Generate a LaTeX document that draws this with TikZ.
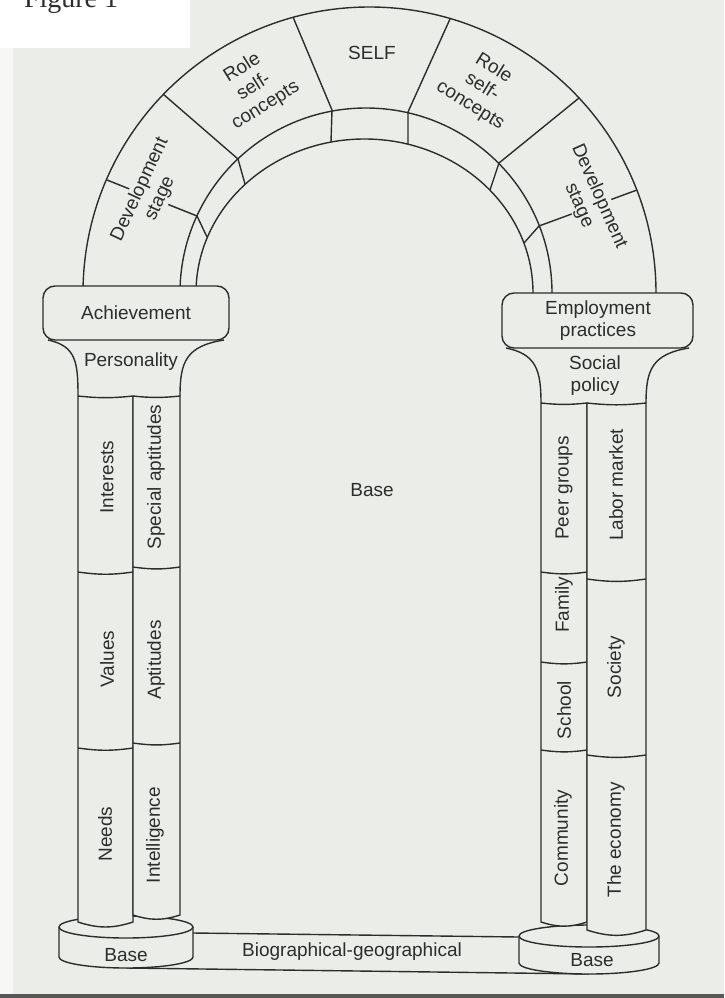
\documentclass[tikz,border=0pt]{standalone}
\usepackage{fontspec}
\setmainfont{Liberation Sans}
\newfontfamily\figfont{Liberation Serif}
\definecolor{paper}{RGB}{235,238,232}
\definecolor{ink}{RGB}{45,45,45}

\begin{document}
\begin{tikzpicture}[x=1pt,y=1pt,line width=1.4pt,color=ink,
  lbl/.style={font=\fontsize{19}{22}\selectfont,inner sep=1pt,align=center},
  up/.style={lbl,rotate=90}]
  \useasboundingbox (0,0) rectangle (724,-998);
  \clip (0,0) rectangle (724,-998);
  % Page
  \fill[paper] (0,0) rectangle (724,-998);
  \fill[paper!40!white] (0,-27) rectangle (13,-998);
  \fill[white] (0,0) rectangle (190,-48);
  \fill[ink!80] (0,-994) rectangle (724,-998);
  \node[font=\figfont\fontsize{28}{30}\selectfont,anchor=base west] (fig) at (20,-8) {Figure 1};

  % Arch
  \draw (83,-293) arc[start angle=180,end angle=0,x radius=286.5,y radius=286];
  \draw (180,-293) arc[start angle=180,end angle=0,x radius=186,y radius=185];
  \draw (196,-293) arc[start angle=180,end angle=0,x radius=168.5,y radius=154];
  \draw (293,-17) -- (332,-110) -- (331,-142);
  \draw (450,-19) -- (408,-112) -- (408,-144);
  \draw (163,-94) -- (238,-159) -- (245,-184);
  \draw (579,-98) -- (499,-163) -- (490,-190);
  \draw (107,-180) -- (197,-216) -- (207,-237);
  \draw (637,-190) -- (539,-226) -- (524,-243);

  \node[lbl] (self) at (372,-53) {SELF};
  \node[lbl,rotate=32] (rolel) at (254,-87) {Role\\self-\\concepts};
  \node[lbl,rotate=-32] (roler) at (482,-87) {Role\\self-\\concepts};
  \node[lbl,rotate=65,fill=paper] (devl) at (150,-194) {Development\\stage};
  \node[lbl,rotate=-66,fill=paper] (devr) at (589,-201) {Development\\stage};
  \node[lbl] (base) at (372,-490) {Base};

  % Biographical-geographical base
  \draw (193,-933) -- (519,-937);
  \draw (126,-968) -- (589,-974);
  \node[lbl] (bio) at (352,-952) {Biographical-geographical};
  \draw[fill=paper] (59,-927) -- (59,-957) arc[start angle=180,end angle=360,x radius=67,y radius=11]
    -- (193,-927) arc[start angle=0,end angle=180,x radius=67,y radius=11] -- cycle;
  \draw (59,-927) arc[start angle=180,end angle=360,x radius=67,y radius=11];
  \node[lbl] (basel) at (126,-955) {Base};
  \draw[fill=paper] (519,-936) -- (519,-963) arc[start angle=180,end angle=360,x radius=70,y radius=11]
    -- (659,-936) arc[start angle=0,end angle=180,x radius=70,y radius=11] -- cycle;
  \draw (519,-936) arc[start angle=180,end angle=360,x radius=70,y radius=11];
  \node[lbl] (baser) at (592,-960) {Base};

  % Left pillar
  \draw[fill=paper,rounded corners=12] (43,-286) rectangle (229,-340);
  \draw (48,-340) .. controls (76,-346) and (78,-362) .. (78,-396);
  \draw (224,-340) .. controls (186,-346) and (180,-362) .. (180,-396);
  \draw[fill=paper] (78,-396) -- (78,-922) to[bend right=18] (133,-922) -- (133,-396) to[bend left=6] (78,-396);
  \draw[fill=paper] (133,-396) -- (133,-915) to[bend right=18] (180,-915) -- (180,-396) to[bend left=6] (133,-396);
  \draw (78,-572) to[bend right=8] (133,-572);
  \draw (78,-748) to[bend right=8] (133,-748);
  \draw (133,-567) to[bend right=8] (180,-567);
  \draw (133,-743) to[bend right=8] (180,-743);
  \node[lbl] (ach) at (136,-313) {Achievement};
  \node[lbl] (pers) at (131,-362) {Personality};
  \node[up] (int) at (107,-477) {Interests};
  \node[up] (val) at (107,-659) {Values};
  \node[up] (need) at (105,-834) {Needs};
  \node[up] (spec) at (156,-477) {Special aptitudes};
  \node[up] (apt) at (156,-660) {Aptitudes};
  \node[up] (intel) at (155,-835) {Intelligence};

  % Right pillar
  \draw[fill=paper,rounded corners=12] (502,-293) rectangle (693,-348);
  \draw (506,-348) .. controls (536,-354) and (541,-370) .. (541,-403);
  \draw (689,-348) .. controls (652,-354) and (646,-370) .. (646,-403);
  \draw[fill=paper] (541,-403) -- (541,-922) to[bend right=18] (587,-922) -- (587,-403) to[bend left=6] (541,-403);
  \draw[fill=paper] (587,-403) -- (587,-930) to[bend right=18] (646,-930) -- (646,-403) to[bend left=6] (587,-403);
  \draw (541,-572) to[bend right=8] (587,-572);
  \draw (541,-662) to[bend right=8] (587,-662);
  \draw (541,-750) to[bend right=8] (587,-750);
  \draw (587,-579) to[bend right=8] (646,-579);
  \draw (587,-755) to[bend right=8] (646,-755);
  \node[lbl] (emp) at (598,-321) {Employment\\practices};
  \node[lbl] (soc) at (595,-376) {Social\\policy};
  \node[up] (peer) at (564,-488) {Peer groups};
  \node[up] (fam) at (564,-605) {Family};
  \node[up] (school) at (564,-710) {School};
  \node[up] (comm) at (563,-838) {Community};
  \node[up] (labor) at (616,-485) {Labor market};
  \node[up] (soci) at (616,-667) {Society};
  \node[up] (econ) at (616,-840) {The economy};
\end{tikzpicture}
\end{document}
